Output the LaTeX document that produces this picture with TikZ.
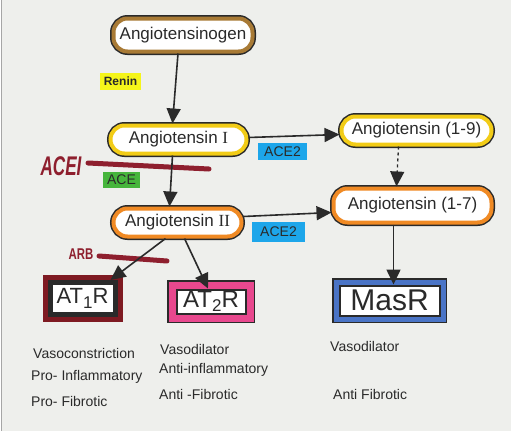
\documentclass[tikz,border=0pt]{standalone}
\usepackage{fontspec}
\setmainfont{Liberation Sans}
\newfontfamily\romnum{Liberation Serif}
\usetikzlibrary{arrows.meta}
\definecolor{paper}{HTML}{EEEFEC}
\definecolor{ink}{HTML}{2A2A2A}
\definecolor{brownc}{HTML}{A87A35}
\definecolor{yellowc}{HTML}{F2CC17}
\definecolor{orangec}{HTML}{F08A24}
\definecolor{maroonc}{HTML}{7E1A22}
\definecolor{pinkc}{HTML}{E8488E}
\definecolor{bluec}{HTML}{4A74C6}
\definecolor{inhib}{HTML}{8E1F2E}
\definecolor{hlyellow}{HTML}{F5F51A}
\definecolor{hlblue}{HTML}{1DA6EA}
\definecolor{hlgreen}{HTML}{46B53C}
\begin{document}
\begin{tikzpicture}[x=1pt,y=-1pt,
  pep/.style={rounded corners=14pt, fill=white, draw=#1, line width=4pt,
    preaction={draw=ink, line width=7pt}, text=ink, inner sep=0pt,
    font=\fontsize{17}{17}\selectfont},
  pinkbox/.style={fill=white, draw=ink, line width=2pt,
    preaction={draw=ink, line width=19pt},
    preaction={draw=pinkc, line width=16pt}, text=ink, inner sep=0pt},
  bluebox/.style={fill=white, draw=ink, line width=2pt,
    preaction={draw=ink, line width=15pt},
    preaction={draw=bluec, line width=12pt}, text=ink, inner sep=0pt},
  hl/.style={fill=#1, text=ink, inner sep=0pt, font=\fontsize{14}{14}\selectfont},
  effect/.style={anchor=west, text=ink, inner sep=0pt, font=\fontsize{14}{14}\selectfont},
  conn/.style={draw=ink, line width=1.6pt, -{Triangle[length=15pt,width=14pt]}},
  bar/.style={draw=inhib, line width=5pt, line cap=round}
]
\useasboundingbox (0,0) rectangle (511,434);
\fill[white] (0,0) rectangle (511,434);
\fill[paper] (2,0) rectangle (511,431);
\draw[gray!70, line width=1pt] (1.5,0) -- (1.5,431);

% peptides
\node[pep=brownc, minimum width=139pt, minimum height=33pt] (ago) at (183,35) {Angiotensinogen};
\node[pep=yellowc, minimum width=136pt, minimum height=28pt] (a1) at (178.5,139.5) {Angiotensin \romnum I};
\node[pep=yellowc, minimum width=150pt, minimum height=28pt] (a19) at (416.5,130.5) {Angiotensin (1-9)};
\node[pep=orangec, minimum width=128pt, minimum height=28pt] (a2) at (177.5,222.5) {Angiotensin \romnum II};
\node[pep=orangec, minimum width=158pt, minimum height=34pt] (a17) at (412.5,205.5) {Angiotensin (1-7)};

% receptors
\node[fill=white, draw=ink, line width=5pt, preaction={draw=maroonc, line width=15pt},
  minimum width=65pt, minimum height=32pt, inner sep=0pt, text=ink,
  font=\fontsize{22}{22}\selectfont] (at1) at (82.5,298.5) {AT\raisebox{-5pt}{\fontsize{17}{17}\selectfont 1}R};
\node[pinkbox, minimum width=69pt, minimum height=24pt,
  font=\fontsize{24}{24}\selectfont] (at2) at (211,301.5) {AT\raisebox{-4pt}{\fontsize{17}{17}\selectfont 2}R};
\node[bluebox, minimum width=100pt, minimum height=30pt,
  font=\fontsize{30}{30}\selectfont] (mas) at (389.5,300.5) {MasR};

% enzyme labels
\node[hl=hlyellow, minimum width=41pt, minimum height=17pt, font=\bfseries\fontsize{12}{12}\selectfont] (renin) at (120.5,81.5) {Renin};
\node[hl=hlblue, minimum width=49pt, minimum height=17pt] (ace2a) at (282.5,151.5) {ACE2};
\node[hl=hlblue, minimum width=53pt, minimum height=20pt] (ace2b) at (278.5,232) {ACE2};
\node[hl=hlgreen, minimum width=37pt, minimum height=16pt] (ace) at (121.5,180) {ACE};

% inhibitors
\node[text=inhib, inner sep=0pt, font=\bfseries\itshape\fontsize{18}{18}\selectfont] (acei) at (61,166) {\scalebox{0.95}[1.5]{ACEI}};
\node[text=inhib, inner sep=0pt, font=\bfseries\fontsize{12}{12}\selectfont] (arb) at (81,254) {\scalebox{0.95}[1.3]{ARB}};
\coordinate (aceiS) at (88,163);
\coordinate (aceiE) at (209,169);
\coordinate (arbS) at (99,256);
\coordinate (arbE) at (167,261);
\draw[bar] (aceiS) -- (aceiE);
\draw[bar] (arbS) -- (arbE);

% connectors
\draw[conn] ([xshift=-5pt]ago.south) -- ([xshift=-6pt]a1.north);
\draw[conn] ([xshift=-6pt]a1.south) -- ([xshift=-8pt]a2.north);
\draw[conn] ([yshift=2pt]a1.east) -- ([yshift=-4pt]a19.west);
\draw[conn] ([yshift=6pt]a2.east) -- ([yshift=-7pt]a17.west);
\draw[conn, dashed, dash pattern=on 3pt off 3pt, line width=1.3pt] ([xshift=-18pt]a19.south) -- ([xshift=-16pt]a17.north);
\draw[conn] ([xshift=-19pt]a17.south) -- ([xshift=4pt]mas.north);
\draw[conn] ([xshift=-12pt]a2.south) -- ([xshift=28pt]at1.north);
\draw[conn] ([xshift=7pt]a2.south) -- ([xshift=-3pt]at2.north);

% effects
\node[effect] (e1) at (33,353) {Vasoconstriction};
\node[effect] (e2) at (31,377) {Pro- Inflammatory};
\node[effect] (e3) at (31,401) {Pro- Fibrotic};
\node[effect] (e4) at (160,349) {Vasodilator};
\node[effect] (e5) at (159,370) {Anti-inflammatory};
\node[effect] (e6) at (159,394) {Anti -Fibrotic};
\node[effect] (e7) at (330,346) {Vasodilator};
\node[effect] (e8) at (333,394) {Anti Fibrotic};
\end{tikzpicture}
\end{document}
